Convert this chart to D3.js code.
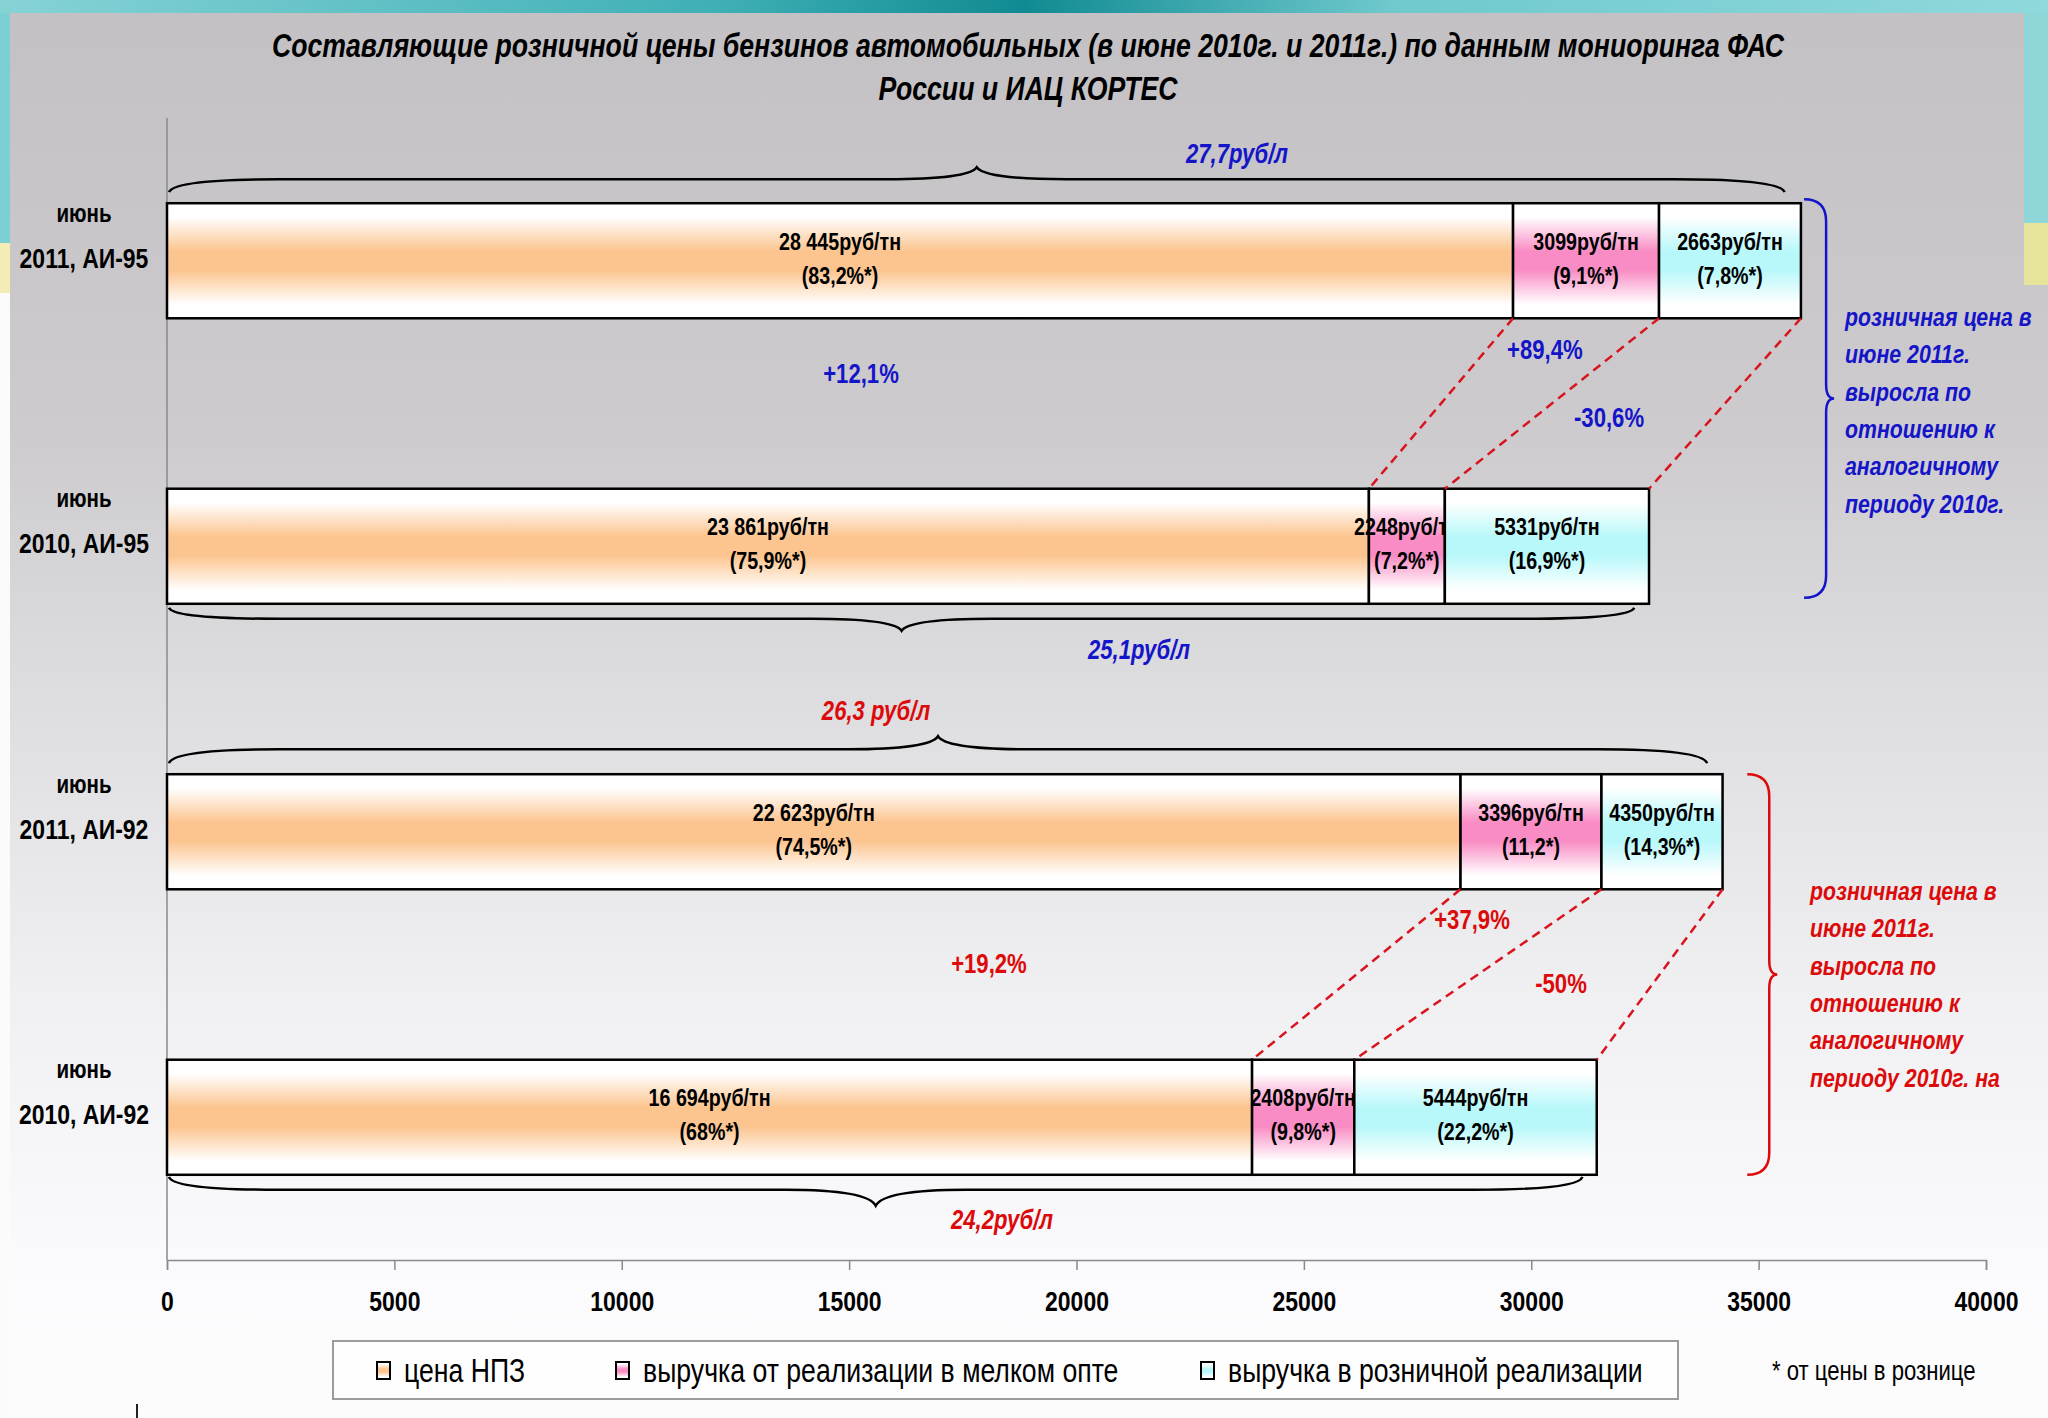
<!DOCTYPE html>
<html>
<head>
<meta charset="utf-8">
<script src="https://cdn.jsdelivr.net/npm/d3@7"></script>
<style>
  html, body { margin: 0; padding: 0; background: #fbfbfc; }
  svg { display: block; }
</style>
</head>
<body>
<div class="chart"></div>
<script>
'use strict'

const d3 = window.d3
const width = 2048
const height = 1418
const FONT = '"Liberation Sans", Arial, sans-serif'
const SQ = 0.82 // horizontal squeeze, the original uses a narrow face
const BLUE = '#1414c8'
const RED = '#dc0a0a'

// data
const categories = ['2011, АИ-95', '2010, АИ-95', '2011, АИ-92', '2010, АИ-92']
const monthLabel = 'июнь'
const npz = [29600, 26430, 28445, 23861]
const opt = [3210, 1670, 3099, 2248]
const retail = [3120, 4490, 2663, 5331]
const npzLabels = ['28 445руб/тн', '23 861руб/тн', '22 623руб/тн', '16 694руб/тн']
const npzShares = ['(83,2%*)', '(75,9%*)', '(74,5%*)', '(68%*)']
const optLabels = ['3099руб/тн', '2248руб/тн', '3396руб/тн', '2408руб/тн']
const optShares = ['(9,1%*)', '(7,2%*)', '(11,2*)', '(9,8%*)']
const retailLabels = ['2663руб/тн', '5331руб/тн', '4350руб/тн', '5444руб/тн']
const retailShares = ['(7,8%*)', '(16,9%*)', '(14,3%*)', '(22,2%*)']
const literPrices = ['27,7руб/л', '25,1руб/л', '26,3 руб/л', '24,2руб/л']
const changes95 = ['+12,1%', '+89,4%', '-30,6%']
const changes92 = ['+19,2%', '+37,9%', '-50%']
const ticks = [0, 5000, 10000, 15000, 20000, 25000, 30000, 35000, 40000]
const legendNames = ['цена НПЗ', 'выручка от реализации в мелком опте', 'выручка в розничной реализации']
const noteLines = ['розничная цена в', 'июне 2011г.', 'выросла по', 'отношению к', 'аналогичному', 'периоду 2010г.']
const noteLines92 = ['розничная цена в', 'июне 2011г.', 'выросла по', 'отношению к', 'аналогичному', 'периоду 2010г. на']

const keys = ['npz', 'opt', 'retail']
const colors = { npz: '#fcc48e', opt: '#f98cc4', retail: '#b8f8fa' }

const rows = categories.map(function(c, i) {
  return {
    cat: c, npz: npz[i], opt: opt[i], retail: retail[i],
    labels: { npz: [npzLabels[i], npzShares[i]], opt: [optLabels[i], optShares[i]], retail: [retailLabels[i], retailShares[i]] }
  }
})

const x = d3.scaleLinear().domain([0, 40000]).range([167, 1986])
const y = d3.scaleBand().domain(categories).range([118, 1260])
    .paddingInner(0.597).paddingOuter(0.2985)
const bw = y.bandwidth()

function at(px, py) {
  return 'translate(' + px + ',' + py + ') scale(' + SQ + ',1)'
}

const svg = d3.select('.chart').append('svg')
    .attr('width', width)
    .attr('height', height)
    .style('font-family', FONT)

const defs = svg.append('defs')

const bg = defs.append('linearGradient').attr('id', 'bg')
    .attr('x1', 0).attr('x2', 0).attr('y1', 0).attr('y2', 1)
bg.selectAll('stop')
    .data([[0, '#c3c1c4'], [0.3, '#cdcbce'], [0.46, '#dbdadd'], [0.7, '#f0eff1'], [0.9, '#fbfafc'], [1, '#fcfcfd']])
  .enter().append('stop')
    .attr('offset', d => d[0]).attr('stop-color', d => d[1])

const topBand = defs.append('linearGradient').attr('id', 'topband')
topBand.selectAll('stop')
    .data([[0, '#86d3d6'], [0.35, '#3fb0b6'], [0.5, '#108a92'], [0.68, '#6fc9cd'], [1, '#8fd9dc']])
  .enter().append('stop')
    .attr('offset', d => d[0]).attr('stop-color', d => d[1])

keys.forEach(function(k) {
  const g = defs.append('linearGradient').attr('id', 'fill-' + k)
      .attr('x1', 0).attr('x2', 0).attr('y1', 0).attr('y2', 1)
  g.selectAll('stop')
      .data([[0, '#ffffff'], [0.12, '#ffffff'], [0.42, colors[k]], [0.58, colors[k]], [0.88, '#ffffff'], [1, '#ffffff']])
    .enter().append('stop')
      .attr('offset', d => d[0]).attr('stop-color', d => d[1])
})

// slide background
svg.append('rect').attr('width', width).attr('height', height).attr('fill', '#fbfbfc')
svg.append('rect').attr('x', 10).attr('y', 13).attr('width', width - 10).attr('height', height - 13)
    .attr('fill', 'url(#bg)')
svg.append('rect').attr('width', width).attr('height', 13).attr('fill', 'url(#topband)')
svg.append('rect').attr('x', 0).attr('y', 13).attr('width', 10).attr('height', 230).attr('fill', '#7ccfd2')
svg.append('rect').attr('x', 0).attr('y', 243).attr('width', 10).attr('height', 50).attr('fill', '#f3ecb4')
svg.append('rect').attr('x', 2024).attr('y', 13).attr('width', 24).attr('height', 210).attr('fill', '#8fd6d8')
svg.append('rect').attr('x', 2024).attr('y', 223).attr('width', 24).attr('height', 62).attr('fill', '#e6e39a')
svg.append('line').attr('x1', 137).attr('x2', 137).attr('y1', 1404).attr('y2', 1418)
    .attr('stroke', '#222').attr('stroke-width', 2)

// title
const titleLines = [
  'Составляющие розничной цены бензинов автомобильных (в июне 2010г. и 2011г.) по данным мониоринга ФАС',
  'России и ИАЦ КОРТЕС'
]
svg.selectAll('.title')
    .data(titleLines)
  .enter().append('text')
    .attr('class', 'title')
    .attr('transform', (d, i) => at(1028, 57 + i * 43))
    .attr('text-anchor', 'middle')
    .style('font-size', '32.5px').style('font-weight', 'bold').style('font-style', 'italic')
    .text(d => d)

// axes
const xAxis = svg.append('g')
    .attr('transform', 'translate(0,1260)')
    .call(d3.axisBottom(x).tickValues(ticks).tickSize(10).tickPadding(21).tickFormat(d3.format('d')))
xAxis.select('.domain').attr('stroke', '#8a8a8a').attr('stroke-width', 1.5)
xAxis.selectAll('.tick line').attr('stroke', '#8a8a8a').attr('stroke-width', 1.5)
xAxis.selectAll('.tick text')
    .attr('transform', 'scale(' + SQ + ',1)')
    .style('font-family', FONT).style('font-size', '28px').style('font-weight', 'bold').attr('fill', '#000')

svg.append('line')
    .attr('x1', x(0)).attr('x2', x(0))
    .attr('y1', y.range()[0]).attr('y2', y.range()[1])
    .attr('stroke', '#8a8a8a').attr('stroke-width', 1.5)

// category labels
const cat = svg.selectAll('.cat')
    .data(categories)
  .enter().append('g')
    .attr('class', 'cat')
    .attr('transform', d => 'translate(84,' + (y(d) + bw / 2) + ')')
cat.append('text')
    .attr('transform', at(0, -39))
    .attr('text-anchor', 'middle')
    .style('font-size', '25px').style('font-weight', 'bold')
    .text(monthLabel)
cat.append('text')
    .attr('transform', at(0, 7))
    .attr('text-anchor', 'middle')
    .style('font-size', '28px').style('font-weight', 'bold')
    .text(d => d)

// stacked bars
const series = d3.stack().keys(keys)(rows)

const layer = svg.selectAll('.layer')
    .data(series)
  .enter().append('g')
    .attr('class', 'layer')

layer.selectAll('rect')
    .data(d => d.map(p => ({ key: d.key, p: p })))
  .enter().append('rect')
    .attr('x', d => x(d.p[0]))
    .attr('y', d => y(d.p.data.cat))
    .attr('width', d => x(d.p[1]) - x(d.p[0]))
    .attr('height', bw)
    .attr('fill', d => 'url(#fill-' + d.key + ')')
    .attr('stroke', '#000')
    .attr('stroke-width', 2.5)

const segLabel = layer.selectAll('.seg')
    .data(d => d.map(p => ({ key: d.key, p: p })))
  .enter().append('text')
    .attr('class', 'seg')
    .attr('text-anchor', 'middle')
    .attr('transform', d => at((x(d.p[0]) + x(d.p[1])) / 2, y(d.p.data.cat) + bw / 2))
    .style('font-size', '24px').style('font-weight', 'bold')
segLabel.append('tspan').attr('x', 0).attr('y', -11).text(d => d.p.data.labels[d.key][0])
segLabel.append('tspan').attr('x', 0).attr('y', 23).text(d => d.p.data.labels[d.key][1])

// dashed connectors between the segment ends of each pair
function connectors(topIdx, botIdx) {
  return series.map(function(s) {
    return { x1: x(s[topIdx][1]), y1: y(categories[topIdx]) + bw, x2: x(s[botIdx][1]), y2: y(categories[botIdx]) }
  })
}
svg.selectAll('.conn')
    .data(connectors(0, 1).concat(connectors(2, 3)))
  .enter().append('line')
    .attr('class', 'conn')
    .attr('x1', d => d.x1).attr('y1', d => d.y1)
    .attr('x2', d => d.x2).attr('y2', d => d.y2)
    .attr('stroke', '#d8141e').attr('stroke-width', 2.5)
    .attr('stroke-dasharray', '9,6')

// curly braces over / under the bars
function hBrace(x0, x1, yEnd, yLine, yTip) {
  const xm = (x0 + x1) / 2
  return 'M' + x0 + ',' + yEnd
      + 'Q' + (x0 + 4) + ',' + yLine + ' ' + (x0 + 110) + ',' + yLine
      + 'L' + (xm - 90) + ',' + yLine
      + 'Q' + (xm - 8) + ',' + yLine + ' ' + xm + ',' + yTip
      + 'Q' + (xm + 8) + ',' + yLine + ' ' + (xm + 90) + ',' + yLine
      + 'L' + (x1 - 110) + ',' + yLine
      + 'Q' + (x1 - 4) + ',' + yLine + ' ' + x1 + ',' + yEnd
}
const totals = rows.map(r => r.npz + r.opt + r.retail)
const braceSpec = [
  { i: 0, yEnd: y(categories[0]) - 11, yLine: y(categories[0]) - 24, yTip: y(categories[0]) - 36 },
  { i: 1, yEnd: y(categories[1]) + bw + 4, yLine: y(categories[1]) + bw + 15, yTip: y(categories[1]) + bw + 27 },
  { i: 2, yEnd: y(categories[2]) - 11, yLine: y(categories[2]) - 25, yTip: y(categories[2]) - 38 },
  { i: 3, yEnd: y(categories[3]) + bw + 2, yLine: y(categories[3]) + bw + 15, yTip: y(categories[3]) + bw + 31 }
]
svg.selectAll('.brace')
    .data(braceSpec)
  .enter().append('path')
    .attr('class', 'brace')
    .attr('d', d => hBrace(x(0) + 2, x(totals[d.i] * 0.99), d.yEnd, d.yLine, d.yTip))
    .attr('fill', 'none').attr('stroke', '#000').attr('stroke-width', 2.5)

// price per litre labels
const literPos = [
  { v: 23529, yy: y(categories[0]) - 40, c: BLUE },
  { v: 21374, yy: y(categories[1]) + bw + 55, c: BLUE },
  { v: 15591, yy: y(categories[2]) - 54, c: RED },
  { v: 18362, yy: y(categories[3]) + bw + 54, c: RED }
]
svg.selectAll('.liter')
    .data(literPrices)
  .enter().append('text')
    .attr('class', 'liter')
    .attr('transform', (d, i) => at(x(literPos[i].v), literPos[i].yy))
    .attr('text-anchor', 'middle')
    .attr('fill', (d, i) => literPos[i].c)
    .style('font-size', '27px').style('font-weight', 'bold').style('font-style', 'italic')
    .text(d => d)

// change percentages
function changeLabels(list, idx, pos, color) {
  svg.selectAll('.chg' + idx)
      .data(list)
    .enter().append('text')
      .attr('transform', (d, i) => at(x(pos[i][0]), y(categories[idx]) + bw + pos[i][1] + 10))
      .attr('text-anchor', 'middle')
      .attr('fill', color)
      .style('font-size', '27px').style('font-weight', 'bold')
      .text(d => d)
}
changeLabels(changes95, 0, [[15261, 55], [30300, 31], [31710, 99]], BLUE)
changeLabels(changes92, 2, [[18075, 74], [28697, 30], [30654, 94]], RED)

// vertical braces on the right
function vBrace(xo, y0, y1) {
  const ym = (y0 + y1) / 2
  const xl = xo + 22
  return 'M' + xo + ',' + y0
      + 'Q' + xl + ',' + y0 + ' ' + xl + ',' + (y0 + 22)
      + 'L' + xl + ',' + (ym - 14)
      + 'Q' + xl + ',' + ym + ' ' + (xl + 8) + ',' + ym
      + 'Q' + xl + ',' + ym + ' ' + xl + ',' + (ym + 14)
      + 'L' + xl + ',' + (y1 - 22)
      + 'Q' + xl + ',' + y1 + ' ' + xo + ',' + y1
}
svg.append('path')
    .attr('d', vBrace(x(36000), y(categories[0]) - 4, y(categories[1]) + bw - 6))
    .attr('fill', 'none').attr('stroke', BLUE).attr('stroke-width', 2.5)
svg.append('path')
    .attr('d', vBrace(x(34750), y(categories[2]), y(categories[3]) + bw))
    .attr('fill', 'none').attr('stroke', RED).attr('stroke-width', 2.5)

function note(lines, xStart, yStart, color) {
  svg.append('g').selectAll('text')
      .data(lines)
    .enter().append('text')
      .attr('transform', (d, i) => at(xStart, yStart + i * 37.3))
      .attr('fill', color)
      .style('font-size', '26px').style('font-weight', 'bold').style('font-style', 'italic')
      .text(d => d)
}
note(noteLines, 1845, 326, BLUE)
note(noteLines92, 1810, 900, RED)

// legend
svg.append('rect')
    .attr('x', 333).attr('y', 1341).attr('width', 1345).attr('height', 58)
    .attr('fill', '#fefefe').attr('stroke', '#9c9c9c').attr('stroke-width', 2)
const legendX = [384, 623, 1208]
const leg = svg.selectAll('.leg')
    .data(keys)
  .enter().append('g')
    .attr('class', 'leg')
    .attr('transform', (d, i) => 'translate(' + legendX[i] + ',1371)')
leg.append('rect')
    .attr('x', -7).attr('y', -9).attr('width', 13).attr('height', 17)
    .attr('fill', d => 'url(#fill-' + d + ')')
    .attr('stroke', '#000').attr('stroke-width', 2)
leg.append('text')
    .attr('transform', at(20, 11))
    .style('font-size', '32.5px')
    .text((d, i) => legendNames[i])

svg.append('text')
    .attr('transform', at(1772, 1380))
    .style('font-size', '27px')
    .text('* от цены в рознице')
</script>
</body>
</html>
